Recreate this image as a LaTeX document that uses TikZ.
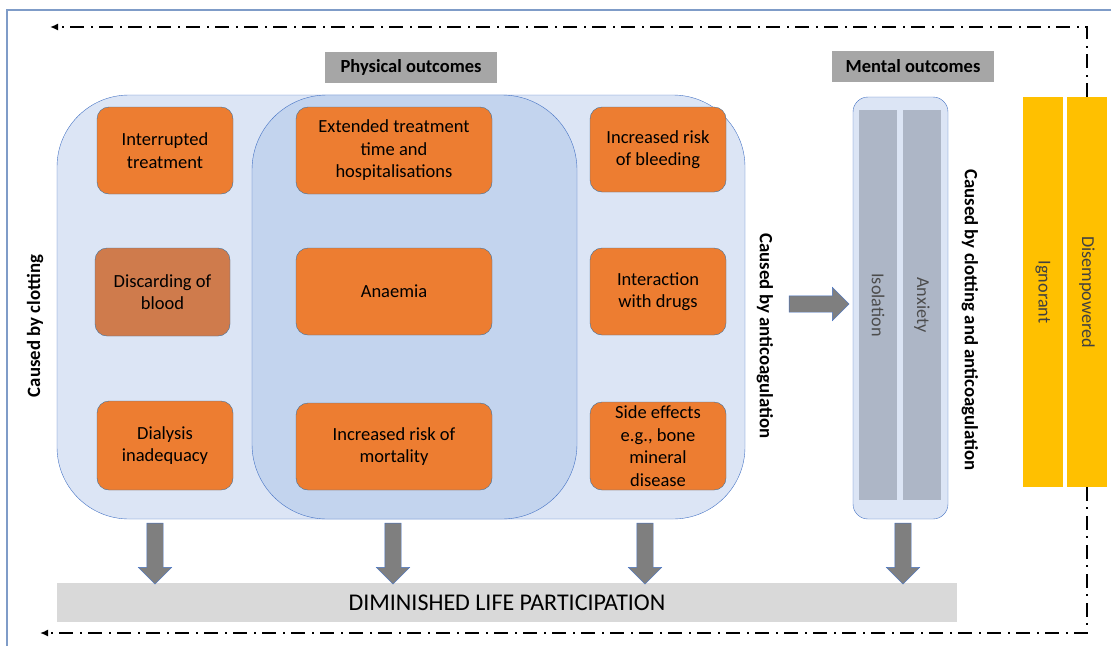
\documentclass[tikz,border=0pt]{standalone}
\usepackage{fontspec}
\setmainfont{Carlito}
\usetikzlibrary{shapes.arrows,arrows.meta}
\definecolor{framebl}{HTML}{7F9CC8}
\definecolor{edgebl}{HTML}{4472C4}
\definecolor{paleblue}{HTML}{DCE5F5}
\definecolor{midblue}{HTML}{C3D4EE}
\definecolor{orangebox}{HTML}{ED7D31}
\definecolor{dullorange}{HTML}{CF7B4C}
\definecolor{orangeedge}{HTML}{41719C}
\definecolor{headgray}{HTML}{A6A6A6}
\definecolor{bargray}{HTML}{ADB6C6}
\definecolor{arrowgray}{HTML}{7F7F7F}
\definecolor{bottomgray}{HTML}{D9D9D9}
\definecolor{goldbar}{HTML}{FFC000}

\tikzset{
  outcome/.style={draw=orangeedge, fill=orangebox, rounded corners=12pt,
    minimum width=136pt, minimum height=87pt, align=center, inner sep=2pt,
    font=\fontsize{18.5}{22.5}\selectfont},
  header/.style={fill=headgray, minimum height=31pt, inner sep=0pt,
    font=\bfseries\fontsize{18.5}{21}\selectfont},
  causelabel/.style={font=\bfseries\fontsize{18.8}{21}\selectfont, inner sep=0pt},
  mentalbar/.style={fill=bargray, minimum width=38pt, minimum height=390pt,
    inner sep=0pt},
  goldcol/.style={fill=goldbar, minimum width=40pt, minimum height=390pt,
    inner sep=0pt},
  bartext/.style={rotate=-90, text=black!70, font=\fontsize{18.2}{21}\selectfont},
  blockarrow/.style={single arrow, draw=edgebl, fill=arrowgray, inner sep=8pt,
    minimum height=61pt, single arrow head extend=8.5pt,
    single arrow head indent=0pt, thin},
  dashdot/.style={line width=1.6pt, dash pattern=on 14pt off 6pt on 2pt off 7pt,
    -{Latex[length=8pt,width=7pt]}}
}

\begin{document}
\begin{tikzpicture}[x=1pt,y=-1pt]
  \useasboundingbox (0,0) rectangle (1111,646);
  % frame
  \draw[framebl, line width=2pt] (7,646) -- (7,10) -- (1111,10);

  % grouping shapes
  \node[draw=edgebl, fill=paleblue, rounded corners=72pt, minimum width=688pt,
    minimum height=424pt] (phys) at (401,307) {};
  \node[draw=edgebl, fill=midblue, rounded corners=75pt, minimum width=325pt,
    minimum height=424pt] (both) at (414.5,307) {};
  \node[draw=edgebl, fill=paleblue, rounded corners=15pt, minimum width=95pt,
    minimum height=422pt] (ment) at (900.5,308) {};

  % headers
  \node[header, minimum width=172pt] (hphys) at (411,67) {Physical outcomes};
  \node[header, minimum width=162pt] (hment) at (913,66) {Mental outcomes};

  % physical outcomes
  \node[outcome] (intr) at (165,150.5) {Interrupted\\treatment};
  \node[outcome, fill=dullorange, minimum width=135pt, minimum height=88pt]
    (disc) at (162.5,292) {Discarding of\\blood};
  \node[outcome, minimum height=89pt] (dial) at (165,445.5) {Dialysis\\inadequacy};
  \node[outcome, minimum width=196pt] (ext) at (394,150.5)
    {Extended treatment\\time and\\hospitalisations};
  \node[outcome, minimum width=196pt] (anae) at (394,291.5) {Anaemia};
  \node[outcome, minimum width=196pt] (mort) at (394,446.5)
    {Increased risk of\\mortality};
  \node[outcome, minimum height=85pt] (bleed) at (658,149.5)
    {Increased risk\\of bleeding};
  \node[outcome] (inter) at (658,291.5) {Interaction\\with drugs};
  \node[outcome, minimum height=88pt] (side) at (658,446)
    {Side effects\\e.g., bone\\mineral\\disease};

  % mental outcomes
  \node[mentalbar] (isol) at (878,305) {};
  \node[bartext] at (isol) {Isolation};
  \node[mentalbar] (anx) at (922,305) {};
  \node[bartext] at (anx) {Anxiety};

  \node[goldcol] (ign) at (1043,292) {};
  \node[bartext, text=black!75] at (ign) {Ignorant};
  \node[goldcol] (dis) at (1087,292) {};
  \node[bartext, text=black!75] at (dis) {Disempowered};

  % side labels
  \node[causelabel, rotate=90] (lclot) at (35,326) {Caused by clotting};
  \node[causelabel, rotate=-90] (lanti) at (765,336) {Caused by anticoagulation};
  \node[causelabel, rotate=-90] (lboth) at (970,320) {Caused by clotting and anticoagulation};

  % bottom bar
  \node[fill=bottomgray, minimum width=900pt, minimum height=39pt, inner sep=0pt,
    font=\fontsize{24}{28}\selectfont] (dlp) at (507,602.5) {DIMINISHED LIFE PARTICIPATION};

  % block arrows
  \node[blockarrow, shape border rotate=270] (a1) at (155,549.5) {};
  \node[blockarrow, shape border rotate=270] (a2) at (393,549.5) {};
  \node[blockarrow, shape border rotate=270] (a3) at (645,549.5) {};
  \node[blockarrow, shape border rotate=270] (a4) at (903,549.5) {};
  \node[blockarrow, minimum height=60pt] (ar) at (815,304) {};

  % feedback loops
  \coordinate (tl) at (50,27);
  \coordinate (bl) at (40,633);
  \draw[dashdot] (dis.north) |- (tl);
  \draw[dashdot] (dis.south) |- (bl);
\end{tikzpicture}
\end{document}
